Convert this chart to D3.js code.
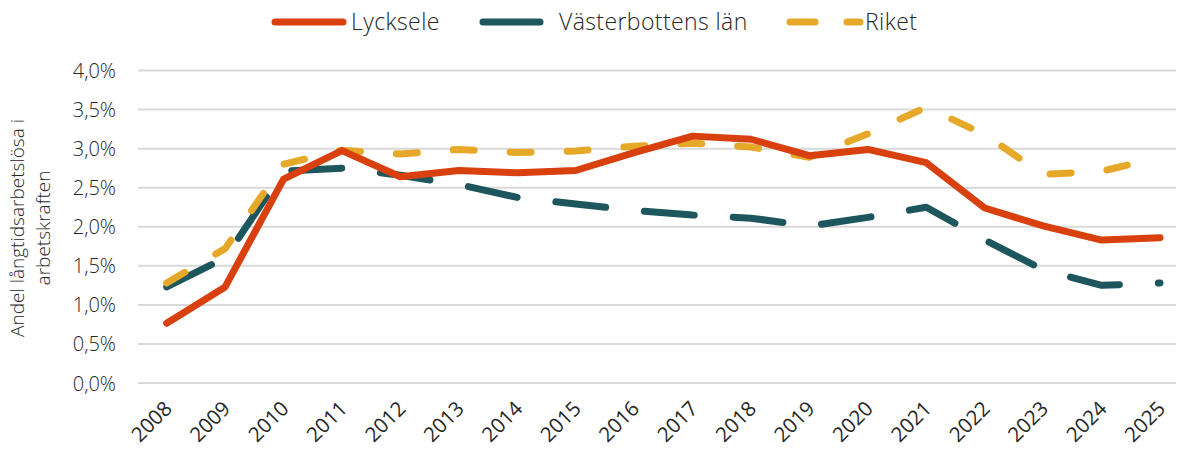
<!DOCTYPE html>
<html><head><meta charset="utf-8">
<script src="https://cdn.jsdelivr.net/npm/d3@7"></script>
<style>
html,body{margin:0;padding:0;background:#fff;}
svg text{font-family:"Open Sans","Noto Sans",sans-serif;font-weight:300;fill:#262626;}
</style></head>
<body><svg id="c" width="1178" height="450"></svg>
<script>
const years = ["2008","2009","2010","2011","2012","2013","2014","2015","2016","2017","2018","2019","2020","2021","2022","2023","2024","2025"];
const lycksele = [0.765,1.23,2.61,2.975,2.64,2.72,2.69,2.72,2.95,3.16,3.12,2.91,2.99,2.82,2.24,2.01,1.83,1.86];
const vasterbotten = [1.23,1.60,2.71,2.75,2.66,2.54,2.375,2.29,2.21,2.15,2.11,2.01,2.12,2.25,1.83,1.45,1.25,1.28];
const riket = [1.28,1.72,2.80,2.98,2.93,2.99,2.95,2.97,3.03,3.07,3.02,2.89,3.19,3.53,3.18,2.67,2.71,2.89];
const yTicks = [0,0.5,1,1.5,2,2.5,3,3.5,4];
const seriesNames = ["Lycksele","Västerbottens län","Riket"];
const colors = ["#D8400E","#1E565E","#E6A829"];

const svg = d3.select("#c");
const x = d3.scalePoint().domain(years).range([166.7,1160]);
const y = d3.scaleLinear().domain([0,4]).range([383,70.5]);

// gridlines
svg.append("g").selectAll("line").data(yTicks).join("line")
  .attr("x1",138).attr("x2",1176)
  .attr("y1",d=>y(d)).attr("y2",d=>y(d))
  .attr("stroke","#d9d9d9").attr("stroke-width",2);

// y axis labels
const fmt = d => d.toFixed(1).replace(".",",")+"%";
const yAxis = d3.axisLeft(y).tickValues(yTicks).tickFormat(fmt).tickSize(0).tickPadding(0);
const gy = svg.append("g").attr("transform","translate(116,0)").call(yAxis);
gy.select(".domain").remove();
gy.selectAll("text").attr("font-size",20).attr("dy","0.35em")
  .style("font-family",'"Open Sans","Noto Sans",sans-serif').style("font-weight",300).attr("fill","#333");

// x axis labels
const xAxis = d3.axisBottom(x).tickSize(0).tickPadding(0);
const gx = svg.append("g").attr("transform","translate(0,383)").call(xAxis);
gx.select(".domain").remove();
gx.selectAll("text").attr("font-size",20.5)
  .style("font-family",'"Open Sans","Noto Sans",sans-serif').style("font-weight",400).attr("fill","#1a1a1a")
  .attr("text-anchor","end").attr("dy",0).attr("y",0)
  .attr("transform","translate(6,27) rotate(-45)");

// y axis title
const yt = svg.append("text").attr("transform","translate(0,228) rotate(-90)")
  .attr("text-anchor","middle").attr("font-size",19);
yt.append("tspan").attr("x",0).attr("y",24).text("Andel långtidsarbetslösa i");
yt.append("tspan").attr("x",0).attr("y",50).text("arbetskraften");

// lines
const line = d3.line().x((d,i)=>x(years[i])).y(d=>y(d));
const dashes = [null,"50,39","21,36"];
const data = [lycksele, vasterbotten, riket];
const order = [1,2,0];
order.forEach(k=>{
  svg.append("path").datum(data[k]).attr("d",line)
    .attr("fill","none").attr("stroke",colors[k]).attr("stroke-width",7)
    .attr("stroke-linecap","round").attr("stroke-linejoin","round")
    .attr("stroke-dasharray",dashes[k]);
});

// legend
const leg = svg.append("g");
const legItems = [
  {x1:275,x2:343,tx:351,dash:null},
  {x1:483,x2:540,tx:559,dash:null},
  {x1:790,x2:860,tx:865,dash:"25,32"}
];
legItems.forEach((it,i)=>{
  leg.append("line").attr("x1",it.x1).attr("x2",it.x2).attr("y1",22).attr("y2",22)
    .attr("stroke",colors[i]).attr("stroke-width",7).attr("stroke-linecap","round")
    .attr("stroke-dasharray",it.dash);
  leg.append("text").attr("x",it.tx).attr("y",22).attr("dy","0.35em")
    .attr("font-size",23).attr("letter-spacing",0.4).text(seriesNames[i]);
});
</script></body></html>
